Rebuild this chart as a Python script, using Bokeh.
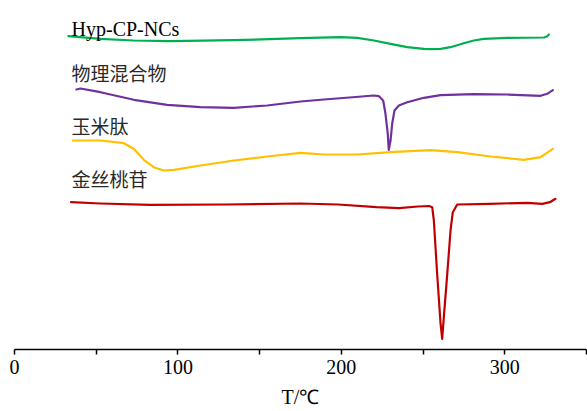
from bokeh.plotting import figure
from bokeh.models import Range1d, FixedTicker
from bokeh.core.properties import value
from bokeh.embed import file_html
from bokeh.resources import INLINE

# ---- data (T in °C, heat flow in stacked arbitrary units) ----
series_names = ["Hyp-CP-NCs", "物理混合物", "玉米肽", "金丝桃苷"]
series_colors = ["#00B050", "#7030A0", "#FFC000", "#C00000"]

hyp_T = [33.0, 52.6, 72.8, 95.5, 134.2, 175.0, 199.5, 209.7, 219.9, 230.1, 240.3,
         250.5, 254.5, 260.7, 266.8, 274.9, 281.0, 287.2, 301.5, 323.9, 325.8, 327.0]
hyp_H = [313.3, 310.7, 309.0, 308.3, 309.3, 311.3, 312.3, 311.7, 309.0, 305.7, 302.3,
         300.7, 300.3, 300.7, 302.3, 306.3, 309.0, 310.7, 311.7, 312.0, 313.0, 315.0]

mix_T = [37.9, 40.4, 52.6, 73.0, 93.4, 113.8, 134.2, 154.6, 175.0, 189.3, 205.0,
         219.9, 223.0, 225.6, 227.0, 228.4, 229.0, 230.1, 231.1, 232.5, 235.2, 240.3,
         250.5, 260.7, 281.0, 301.5, 321.9, 326.0, 329.4]
mix_H = [260.0, 261.0, 257.3, 249.7, 244.7, 242.3, 241.7, 244.0, 248.0, 250.0, 252.0,
         254.0, 253.3, 249.0, 235.7, 215.7, 199.7, 209.0, 225.7, 239.0, 244.0, 247.3,
         251.7, 254.3, 255.3, 255.0, 253.7, 255.7, 259.3]

corn_T = [35.7, 52.6, 66.9, 73.0, 79.1, 85.2, 91.4, 97.5, 113.8, 134.2, 154.6,
          175.0, 189.3, 209.7, 230.1, 254.5, 270.9, 291.3, 311.6, 321.9, 329.4]
corn_H = [209.0, 209.0, 206.3, 200.7, 189.7, 182.3, 179.0, 179.7, 184.0, 189.0, 193.0,
          196.7, 195.0, 195.0, 197.3, 199.3, 197.3, 193.0, 189.7, 192.3, 200.7]

hyp_pure_T = [34.6, 52.6, 83.0, 129.0, 175.0, 198.0, 221.5, 235.3, 246.8, 253.7, 255.6,
              256.6, 258.6, 260.7, 261.7, 262.7, 264.8, 266.8, 268.2, 270.9, 290.6,
              313.7, 323.0, 327.6, 331.0]
hyp_pure_H = [147.3, 146.0, 144.7, 145.0, 146.0, 145.0, 142.3, 141.3, 143.0, 143.5, 142.3,
              129.0, 76.0, 26.0, 10.7, 32.3, 75.7, 119.0, 137.3, 145.0, 145.7,
              146.7, 145.7, 147.3, 150.7]

label_T = [34.9, 34.9, 34.9, 34.9]
label_H = [320.3, 277.5, 224.5, 171.0]

x_ticks = [0, 100, 200, 300]
x_minor = [50, 150, 250, 350]
x_title = "T/℃"

# ---- figure ----
p = figure(width=587, height=411, output_backend="svg", toolbar_location=None,
           x_range=Range1d(0, 350), y_range=Range1d(0, 349),
           y_axis_location=None, min_border_left=14, min_border_right=1,
           min_border_top=0, min_border_bottom=62)
p.outline_line_color = None
p.xgrid.visible = False
p.ygrid.visible = False
p.background_fill_color = "white"
p.border_fill_color = "white"

for T, H, c in [(hyp_T, hyp_H, series_colors[0]), (mix_T, mix_H, series_colors[1]),
                (corn_T, corn_H, series_colors[2]), (hyp_pure_T, hyp_pure_H, series_colors[3])]:
    p.line(T, H, line_color=c, line_width=2.2, line_join="round", line_cap="round")

# Latin label
p.text(x=[label_T[0]], y=[label_H[0]], text=[series_names[0]],
       text_font=value("Liberation Serif"), text_font_size="20px",
       text_color="black", text_baseline="alphabetic", text_align="left")
# CJK labels
p.text(x=label_T[1:], y=label_H[1:], text=series_names[1:],
       text_font=value("Noto Sans CJK SC"), text_font_size="19px",
       text_color="#2a2a2a", text_baseline="middle", text_align="left")

ax = p.xaxis[0]
ax.ticker = FixedTicker(ticks=x_ticks, minor_ticks=x_minor)
ax.axis_label = x_title
ax.axis_label_text_font = "Liberation Serif"
ax.axis_label_text_font_size = "20px"
ax.axis_label_text_font_style = "normal"
ax.axis_label_text_color = "black"
ax.axis_label_standoff = 9
ax.major_label_text_font = "Liberation Serif"
ax.major_label_text_font_size = "20px"
ax.major_label_text_color = "black"
ax.major_label_standoff = 5
ax.axis_line_color = "black"
ax.axis_line_width = 1.5
ax.major_tick_line_color = "black"
ax.major_tick_line_width = 1.5
ax.minor_tick_line_color = "black"
ax.minor_tick_line_width = 1.5
ax.major_tick_in = 0
ax.major_tick_out = 5
ax.minor_tick_in = 0
ax.minor_tick_out = 5

open("out.html", "w").write(file_html(p, INLINE))
